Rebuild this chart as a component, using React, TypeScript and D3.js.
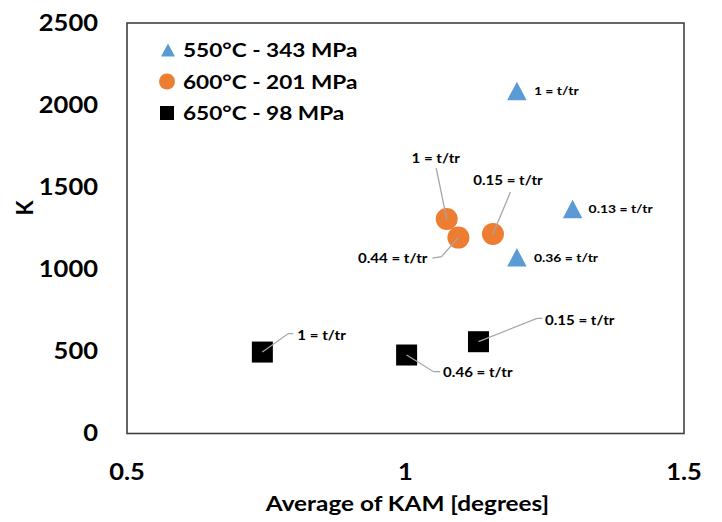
import React from 'react';
import * as d3 from 'd3';

// Average KAM (degrees) and K for each creep condition, with the life fraction t/tr of each sample
const kam550 = [1.2, 1.3, 1.2];
const k550 = [2086, 1367, 1073];
const tr550 = ['1', '0.13', '0.36'];

const kam600 = [1.074, 1.095, 1.157];
const k600 = [1306, 1193, 1215];
const tr600 = ['1', '0.44', '0.15'];

const kam650 = [0.743, 1.002, 1.131];
const k650 = [496, 478, 559];
const tr650 = ['1', '0.46', '0.15'];

const seriesNames = ['550°C - 343 MPa', '600°C - 201 MPa', '650°C - 98 MPa'];
const xTicks = [0.5, 1, 1.5];
const yTicks = [0, 500, 1000, 1500, 2000, 2500];

// label placement relative to each marker (px): text anchor point, optional leader polyline
type LabelPos = { dx: number; dy: number; anchor: 'start' | 'middle' | 'end'; leader?: [number, number][] };

const pos550: LabelPos[] = [
  { dx: 17, dy: 0, anchor: 'start' },
  { dx: 16, dy: 0, anchor: 'start' },
  { dx: 17, dy: 0, anchor: 'start' },
];
const pos600: LabelPos[] = [
  { dx: -11, dy: -61, anchor: 'middle', leader: [[-10.5, -51]] },
  { dx: -31, dy: 21, anchor: 'end', leader: [[-17, 19], [-26, 20.5]] },
  { dx: 15, dy: -54, anchor: 'middle', leader: [[17.5, -42]] },
];
const pos650: LabelPos[] = [
  { dx: 35, dy: -17, anchor: 'start', leader: [[26, -18.5], [31, -18.5]] },
  { dx: 36.5, dy: 17.5, anchor: 'start', leader: [[27, 16.7], [33.5, 16.7]] },
  { dx: 66.5, dy: -21, anchor: 'start', leader: [[58.5, -23.4], [64, -23.4]] },
];

const W = 722;
const H = 522;
const plot = { left: 127, right: 684, top: 23, bottom: 433.5 };

const FONT = 'Lato, "Open Sans", sans-serif';
const SX = 1.16; // horizontal stretch for all text
const BLUE = '#5B9BD5';
const ORANGE = '#ED7D31';
const LEADER = '#A6A6A6';

const x = d3.scaleLinear().domain([0.5, 1.5]).range([plot.left, plot.right]);
const y = d3.scaleLinear().domain([0, 2500]).range([plot.bottom, plot.top]);

function WideText(props: {
  x: number;
  y: number;
  size: number;
  anchor?: 'start' | 'middle' | 'end';
  children: React.ReactNode;
}) {
  const { x: tx, y: ty, size, anchor = 'start', children } = props;
  return (
    <text
      transform={`translate(${tx},${ty}) scale(${SX},1)`}
      textAnchor={anchor}
      dy="0.36em"
      fontFamily={FONT}
      fontWeight={700}
      fontSize={size}
      fill="#000"
    >
      {children}
    </text>
  );
}

function Triangle({ cx, cy, w, h, fill }: { cx: number; cy: number; w: number; h: number; fill: string }) {
  const path = d3.path();
  path.moveTo(cx, cy - h / 2);
  path.lineTo(cx + w / 2, cy + h / 2);
  path.lineTo(cx - w / 2, cy + h / 2);
  path.closePath();
  return <path d={path.toString()} fill={fill} />;
}

function Labels({ xs, ys, trs, pos, size }: { xs: number[]; ys: number[]; trs: string[]; pos: LabelPos[]; size: number }) {
  return (
    <g>
      {xs.map((v, i) => {
        const cx = x(v);
        const cy = y(ys[i]);
        const p = pos[i];
        const line = p.leader
          ? d3.line()([[cx, cy], ...p.leader.map(([a, b]) => [cx + a, cy + b] as [number, number])])
          : null;
        return (
          <g key={i}>
            {line && <path d={line!} fill="none" stroke={LEADER} strokeWidth={1.3} />}
            <WideText x={cx + p.dx} y={cy + p.dy} size={size} anchor={p.anchor}>
              {`${trs[i]} = t/tr`}
            </WideText>
          </g>
        );
      })}
    </g>
  );
}

export default function App() {
  return (
    <svg
      width={W}
      height={H}
      viewBox={`0 0 ${W} ${H}`}
      style={{ position: 'absolute', left: 0, top: 0, background: '#fff' }}
    >
      <rect x={0} y={0} width={W} height={H} fill="#fff" />

      {/* plot frame */}
      <rect
        x={plot.left}
        y={plot.top}
        width={plot.right - plot.left}
        height={plot.bottom - plot.top}
        fill="none"
        stroke="#404040"
        strokeWidth={1.6}
      />

      {/* y ticks */}
      {yTicks.map((t) => (
        <WideText key={t} x={98} y={y(t)} size={22} anchor="end">
          {t}
        </WideText>
      ))}
      {/* x ticks */}
      {xTicks.map((t) => (
        <WideText key={t} x={x(t)} y={472} size={22} anchor="middle">
          {t}
        </WideText>
      ))}

      {/* axis titles */}
      <WideText x={(plot.left + plot.right) / 2 + 2} y={503} size={21} anchor="middle">
        Average of KAM [degrees]
      </WideText>
      <text
        transform="translate(25,208) rotate(-90)"
        textAnchor="middle"
        dy="0.36em"
        fontFamily={FONT}
        fontWeight={700}
        fontSize={22}
      >
        K
      </text>

      {/* markers */}
      {kam550.map((v, i) => (
        <Triangle key={`t${i}`} cx={x(v)} cy={y(k550[i])} w={19.5} h={18.5} fill={BLUE} />
      ))}
      {kam600.map((v, i) => (
        <circle key={`c${i}`} cx={x(v)} cy={y(k600[i])} r={11} fill={ORANGE} />
      ))}
      {kam650.map((v, i) => (
        <rect key={`s${i}`} x={x(v) - 10.5} y={y(k650[i]) - 10.5} width={21} height={21} fill="#000" />
      ))}

      {/* data labels */}
      <Labels xs={kam550} ys={k550} trs={tr550} pos={pos550} size={12} />
      <Labels xs={kam600} ys={k600} trs={tr600} pos={pos600} size={13} />
      <Labels xs={kam650} ys={k650} trs={tr650} pos={pos650} size={13} />

      {/* legend */}
      <g>
        <Triangle cx={168} cy={50} w={14} h={13} fill={BLUE} />
        <WideText x={183} y={50} size={19.5}>
          {seriesNames[0]}
        </WideText>
        <circle cx={167} cy={81.5} r={8} fill={ORANGE} />
        <WideText x={183} y={81.5} size={19.5}>
          {seriesNames[1]}
        </WideText>
        <rect x={160} y={106} width={14} height={14} fill="#000" />
        <WideText x={183} y={113} size={19.5}>
          {seriesNames[2]}
        </WideText>
      </g>
    </svg>
  );
}
